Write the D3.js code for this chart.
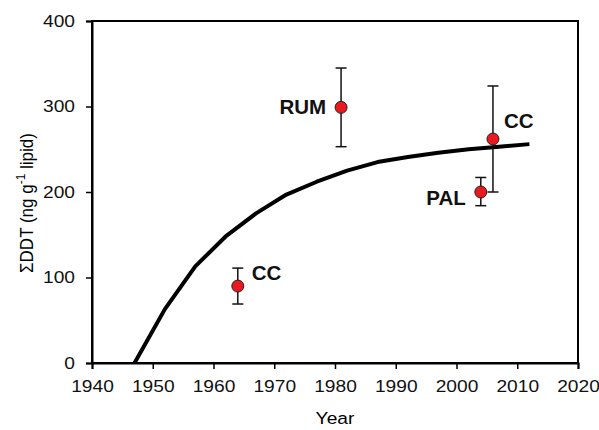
<!DOCTYPE html>
<html><head><meta charset="utf-8">
<script src="https://cdn.jsdelivr.net/npm/d3@7"></script>
<style>body{margin:0;background:#fff}</style>
</head><body>
<svg id="c" width="599" height="430"></svg>
<script>
const curveYears = [1947,1952,1957,1962,1967,1972,1977,1982,1987,1992,1997,2002,2007,2012];
const curveValues = [0,63,113,148,175,197,212,225,235,241,246,250,253,256];
const ptLabels = ["CC","RUM","PAL","CC"];
const ptYears = [1964,1981,2004,2006];
const ptValues = [90,299,200,262];
const ptLow = [69,253,184,200];
const ptHigh = [111,345,217,324];
const xTicks = [1940,1950,1960,1970,1980,1990,2000,2010,2020];
const yTicks = [0,100,200,300,400];

const svg = d3.select("#c");
const m = {l:92, r:21, t:21, b:67};
const W = 599, H = 430;
const x = d3.scaleLinear().domain([1940,2020]).range([m.l, W-m.r]);
const y = d3.scaleLinear().domain([0,400]).range([H-m.b, m.t]);
const font = "Arial, 'Liberation Sans', sans-serif";
const sx = 1.13;

// frame
svg.append("rect").attr("x",x(1940)).attr("y",y(400)).attr("width",x(2020)-x(1940)).attr("height",y(0)-y(400))
  .attr("fill","none").attr("stroke","#000").attr("stroke-width",2);

const xa = svg.append("g").attr("transform",`translate(0,${y(0)})`)
  .call(d3.axisBottom(x).tickValues(xTicks).tickFormat(d3.format("d")).tickSize(6).tickPadding(11));
const ya = svg.append("g").attr("transform",`translate(${x(1940)},0)`)
  .call(d3.axisLeft(y).tickValues(yTicks).tickSize(6).tickPadding(9));
[xa,ya].forEach(a=>{
  a.attr("font-size",17).attr("font-family",font);
  a.select(".domain").attr("stroke-width",2);
  a.selectAll(".tick line").attr("stroke-width",1.5);
  a.selectAll("text").attr("font-family",font).attr("font-size",17).attr("fill","#111")
    .attr("transform",`scale(${sx},1)`);
});

svg.append("text").attr("transform",`translate(${(x(1940)+x(2020))/2},424) scale(${sx},1)`).attr("text-anchor","middle")
  .attr("font-family",font).attr("font-size",17).text("Year");

const yt = svg.append("text").attr("transform",`translate(33,203) rotate(-90) scale(1,${sx})`).attr("text-anchor","middle")
  .attr("font-family",font).attr("font-size",17);
yt.append("tspan").text("\u03A3DDT (ng g");
yt.append("tspan").attr("dy",-7).attr("font-size",12).text("-1");
yt.append("tspan").attr("dy",7).text(" lipid)");

// curve
const line = d3.line().x((d,i)=>x(curveYears[i])).y(d=>y(d));
svg.append("path").datum(curveValues).attr("d",line).attr("fill","none")
  .attr("stroke","#000").attr("stroke-width",4).attr("stroke-linejoin","round");

// error bars & points
const g = svg.append("g");
ptYears.forEach((yr,i)=>{
  const cx = x(yr);
  g.append("line").attr("x1",cx).attr("x2",cx).attr("y1",y(ptLow[i])).attr("y2",y(ptHigh[i])).attr("stroke","#111").attr("stroke-width",1.5);
  [ptLow[i],ptHigh[i]].forEach(v=>{
    g.append("line").attr("x1",cx-5.5).attr("x2",cx+5.5).attr("y1",y(v)).attr("y2",y(v)).attr("stroke","#111").attr("stroke-width",1.5);
  });
});
ptYears.forEach((yr,i)=>{
  g.append("circle").attr("cx",x(yr)).attr("cy",y(ptValues[i])).attr("r",6)
    .attr("fill","#e8191f").attr("stroke","#222").attr("stroke-width",1);
});

// labels
const labelPos = [
  {dx:14, dy:-6, anchor:"start"},
  {dx:-15, dy:7, anchor:"end"},
  {dx:-15, dy:13, anchor:"end"},
  {dx:11, dy:-11, anchor:"start"}
];
ptLabels.forEach((t,i)=>{
  const p = labelPos[i];
  svg.append("text").attr("x",x(ptYears[i])+p.dx).attr("y",y(ptValues[i])+p.dy)
    .attr("text-anchor",p.anchor).attr("font-family",font).attr("font-weight","bold")
    .attr("font-size",20.5).attr("fill","#111").text(t);
});
</script>
</body></html>
